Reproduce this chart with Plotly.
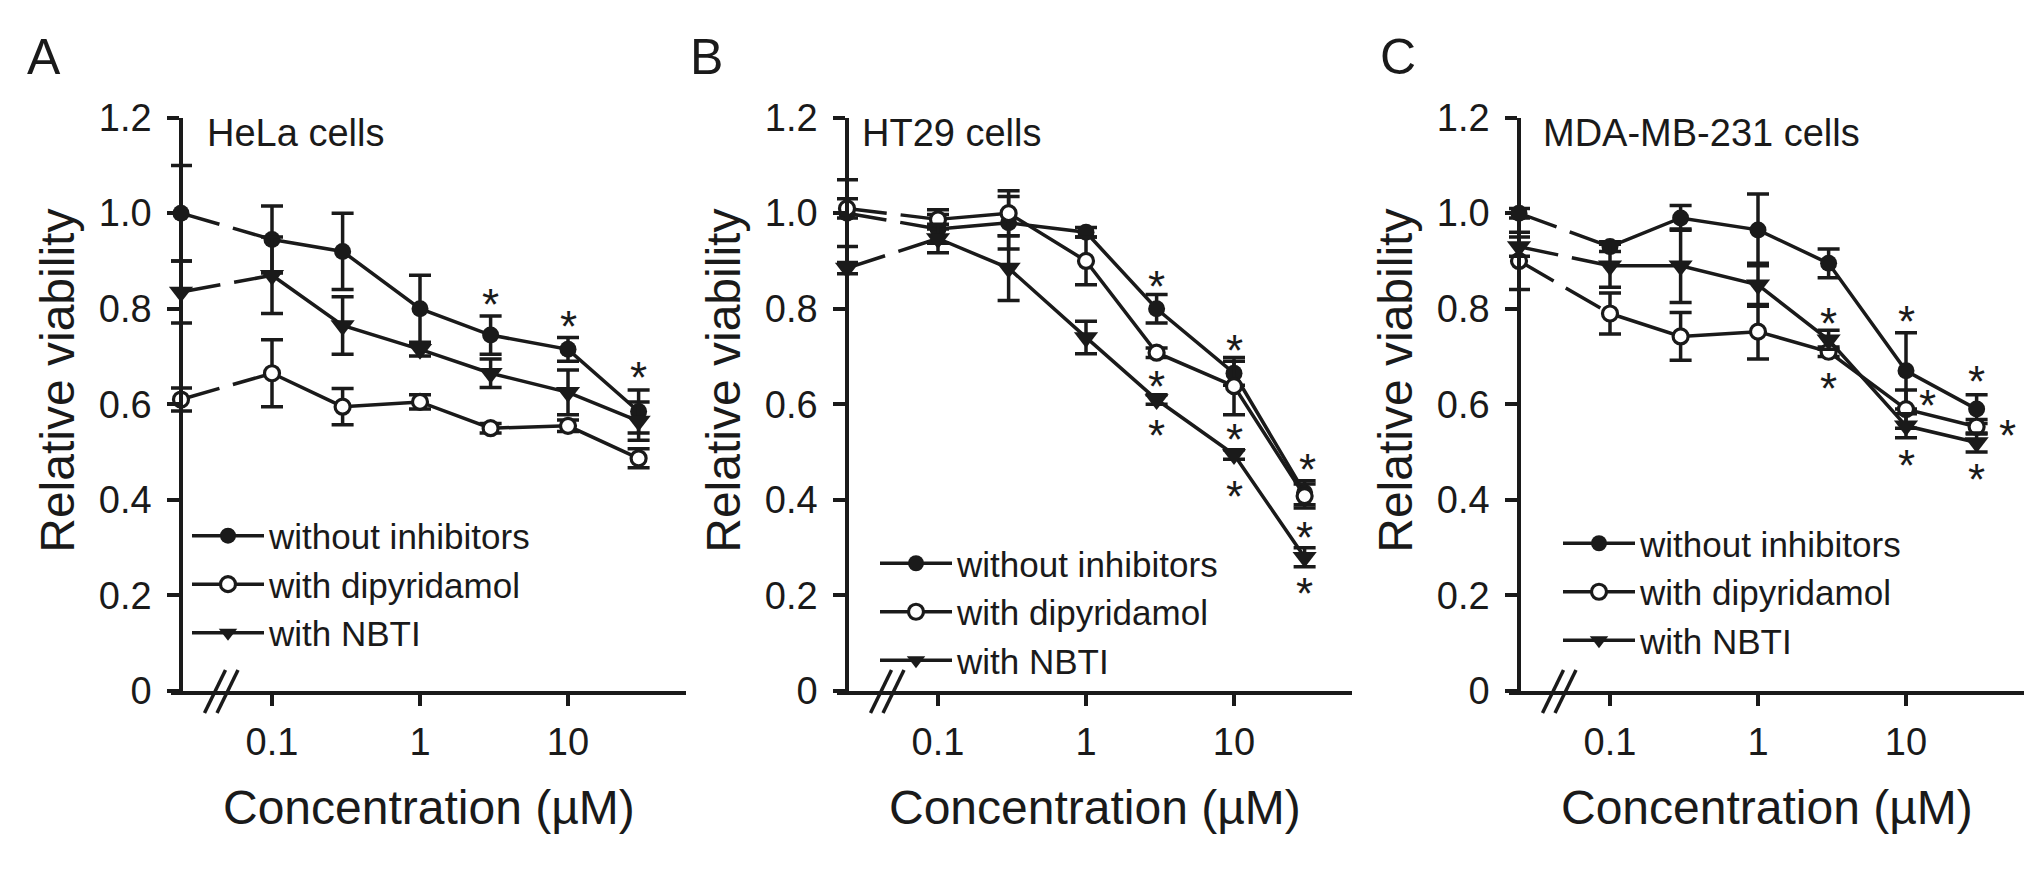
import math
import plotly.graph_objects as go

W, H = 2043, 870

# ---------------- data ----------------
doses = [0, 0.1, 0.3, 1, 3, 10, 30]          # µM, 0 = untreated control
series_names = ["without inhibitors", "with dipyridamol", "with NBTI"]
x_ticks = [0.1, 1, 10]
x_ticklabels = ["0.1", "1", "10"]
y_ticks = [0, 0.2, 0.4, 0.6, 0.8, 1.0, 1.2]
y_ticklabels = ["0", "0.2", "0.4", "0.6", "0.8", "1.0", "1.2"]

hela_without = [1.00, 0.945, 0.92, 0.80, 0.745, 0.715, 0.585]
hela_without_err = [0.10, 0.07, 0.08, 0.07, 0.04, 0.025, 0.045]
hela_dipy = [0.61, 0.665, 0.595, 0.605, 0.55, 0.555, 0.487]
hela_dipy_err = [0.024, 0.07, 0.038, 0.015, 0.01, 0.012, 0.02]
hela_nbti = [0.835, 0.87, 0.765, 0.715, 0.665, 0.625, 0.565]
hela_nbti_err = [0.065, 0.08, 0.06, 0.014, 0.03, 0.047, 0.04]

ht29_without = [1.00, 0.967, 0.98, 0.96, 0.80, 0.665, 0.415]
ht29_without_err = [0.07, 0.03, 0.055, 0.01, 0.03, 0.025, 0.025]
ht29_dipy = [1.01, 0.987, 1.00, 0.90, 0.708, 0.638, 0.408]
ht29_dipy_err = [0.02, 0.02, 0.047, 0.05, 0.01, 0.06, 0.025]
ht29_nbti = [0.885, 0.947, 0.885, 0.74, 0.61, 0.495, 0.28]
ht29_nbti_err = [0.012, 0.03, 0.068, 0.034, 0.01, 0.01, 0.02]

mda_without = [1.00, 0.93, 0.99, 0.965, 0.895, 0.67, 0.59]
mda_without_err = [0.01, 0.01, 0.026, 0.075, 0.03, 0.08, 0.03]
mda_dipy = [0.90, 0.79, 0.742, 0.752, 0.71, 0.59, 0.553]
mda_dipy_err = [0.06, 0.043, 0.05, 0.057, 0.01, 0.04, 0.015]
mda_nbti = [0.93, 0.89, 0.89, 0.85, 0.735, 0.555, 0.52]
mda_nbti_err = [0.02, 0.045, 0.077, 0.045, 0.02, 0.025, 0.02]

# significance asterisks: (dose, y position, horizontal offset in px)
hela_sig = [(3, 0.83, 0), (10, 0.783, 0), (30, 0.677, 0)]
ht29_sig = [(3, 0.867, 0), (3, 0.658, 0), (3, 0.555, 0),
            (10, 0.734, 0), (10, 0.548, 0), (10, 0.428, 0),
            (30, 0.485, 3), (30, 0.342, 0), (30, 0.225, 0)]
mda_sig = [(3, 0.791, 0), (3, 0.655, 0),
           (10, 0.795, 0), (10, 0.619, 21), (10, 0.493, 0),
           (30, 0.669, 0), (30, 0.556, 31), (30, 0.463, 0)]

panels = [
    dict(letter="A", title="HeLa cells",
         series=[(hela_without, hela_without_err), (hela_dipy, hela_dipy_err), (hela_nbti, hela_nbti_err)],
         sig=hela_sig, x0=181, title_x=205, letter_x=44, leg_x=187, leg_y=510),
    dict(letter="B", title="HT29 cells",
         series=[(ht29_without, ht29_without_err), (ht29_dipy, ht29_dipy_err), (ht29_nbti, ht29_nbti_err)],
         sig=ht29_sig, x0=847, title_x=860, letter_x=706, leg_x=875, leg_y=539),
    dict(letter="C", title="MDA-MB-231 cells",
         series=[(mda_without, mda_without_err), (mda_dipy, mda_dipy_err), (mda_nbti, mda_nbti_err)],
         sig=mda_sig, x0=1519, title_x=1541, letter_x=1398, leg_x=1558, leg_y=518),
]

# ---------------- style / layout constants ----------------
FONT = "Liberation Sans, Arial, Helvetica, sans-serif"
INK = "#1a1a1a"
LW = 3.5
DEC = 148.0            # px per decade
CTRL_OFF = 91.0        # px between y axis (control) and 0.1 µM
ctrl_log = -1 - CTRL_OFF / DEC
CTRL_POS = 10 ** ctrl_log
x_lo = ctrl_log - 10 / DEC
x_hi = ctrl_log + 505 / DEC
Y_TOP, Y_BOT = 101.5, 704.0

markers = [
    dict(symbol="circle", size=17, color=INK, line=dict(width=0)),
    dict(symbol="circle", size=15, color="white", line=dict(width=3.2, color=INK)),
    dict(symbol="triangle-down", size=21, color=INK, line=dict(width=0)),
]


def plot_x(d):
    return CTRL_POS if d == 0 else d


fig = go.Figure()
annotations = []
shapes = []
layout_axes = {}

for i, p in enumerate(panels):
    n = "" if i == 0 else str(i + 1)
    xa, ya = "x" + n, "y" + n
    leg = "legend" + n
    xs = [plot_x(d) for d in doses]

    # dashed link control -> first dose
    for s, (vals, errs) in enumerate(p["series"]):
        fig.add_trace(go.Scatter(x=xs[:2], y=vals[:2], mode="lines", xaxis=xa, yaxis=ya,
                                 line=dict(color=INK, width=LW, dash="40px,14px"),
                                 showlegend=False, hoverinfo="skip"))
    for s, (vals, errs) in enumerate(p["series"]):
        fig.add_trace(go.Scatter(x=xs[1:], y=vals[1:], mode="lines+markers", xaxis=xa, yaxis=ya,
                                 name=series_names[s], legend=leg,
                                 line=dict(color=INK, width=LW), marker=markers[s],
                                 error_y=dict(type="data", array=errs[1:], color=INK,
                                              thickness=LW, width=11),
                                 cliponaxis=False))
        fig.add_trace(go.Scatter(x=xs[:1], y=vals[:1], mode="markers", xaxis=xa, yaxis=ya,
                                 marker=markers[s], showlegend=False,
                                 error_y=dict(type="data", array=errs[:1], color=INK,
                                              thickness=LW, width=11),
                                 cliponaxis=False))

    x0 = p["x0"]
    layout_axes["xaxis" + n] = dict(
        type="log", range=[x_lo, x_hi], domain=[(x0 - 10) / W, (x0 + 505) / W],
        anchor=ya, showline=True, linewidth=LW, linecolor=INK, showgrid=False, zeroline=False,
        ticks="outside", ticklen=11, tickwidth=LW, tickcolor=INK,
        tickvals=x_ticks, ticktext=x_ticklabels,
        tickfont=dict(family=FONT, size=38, color=INK), ticklabelstandoff=4)
    layout_axes["yaxis" + n] = dict(
        range=[0, 1.2], domain=[1 - Y_BOT / H, 1 - Y_TOP / H],
        anchor="free", position=x0 / W,
        showline=True, linewidth=LW, linecolor=INK, showgrid=False, zeroline=False,
        ticks="outside", ticklen=12, tickwidth=LW, tickcolor=INK,
        tickvals=y_ticks, ticktext=y_ticklabels,
        tickfont=dict(family=FONT, size=38, color=INK), ticklabelstandoff=8)

    layout_axes[leg] = dict(x=p["leg_x"] / W, y=1 - p["leg_y"] / H, xanchor="left", yanchor="top",
                            bgcolor="rgba(0,0,0,0)", font=dict(family=FONT, size=35, color=INK),
                            itemwidth=72, tracegroupgap=0)

    # asterisks
    for d, yv, dx in p["sig"]:
        annotations.append(dict(x=math.log10(plot_x(d)), y=yv, xref=xa, yref=ya, text="*",
                                showarrow=False, xshift=dx, yshift=-10,
                                font=dict(family=FONT, size=44, color=INK)))

    # text: panel letter, cell line, axis titles
    annotations.append(dict(x=p["letter_x"] / W, y=1 - 38 / H, xref="paper", yref="paper",
                            text=p["letter"], showarrow=False, xanchor="center", yanchor="middle",
                            font=dict(family=FONT, size=50, color=INK)))
    annotations.append(dict(x=p["title_x"] / W, y=1 - 118 / H, xref="paper", yref="paper",
                            text=p["title"], showarrow=False, xanchor="left", yanchor="middle",
                            font=dict(family=FONT, size=38, color=INK)))
    annotations.append(dict(x=(x0 - 123) / W, y=1 - 378 / H, xref="paper", yref="paper",
                            text="Relative viability", showarrow=False, textangle=-90,
                            xanchor="center", yanchor="middle",
                            font=dict(family=FONT, size=48, color=INK)))
    annotations.append(dict(x=(x0 + 248) / W, y=1 - 826 / H, xref="paper", yref="paper",
                            text="Concentration (µM)", showarrow=False,
                            xanchor="center", yanchor="middle",
                            font=dict(family=FONT, size=48, color=INK)))

    # axis break marks
    for off in (34, 46.5):
        cx = x0 + off
        shapes.append(dict(type="line", xref="paper", yref="paper",
                           x0=(cx - 10.5) / W, y0=1 - (Y_BOT + 23) / H,
                           x1=(cx + 10.5) / W, y1=1 - (Y_BOT - 22) / H,
                           line=dict(color=INK, width=LW)))

fig.update_layout(
    width=W, height=H, margin=dict(l=0, r=0, t=0, b=0),
    paper_bgcolor="white", plot_bgcolor="white",
    annotations=annotations, shapes=shapes, hovermode=False,
    **layout_axes)

# remove the default page margin so the figure sits exactly in the 2043x870 window
fig.write_html("out.html", config={"displayModeBar": False},
               post_script="document.body.style.margin='0px';document.body.style.overflow='hidden';")
